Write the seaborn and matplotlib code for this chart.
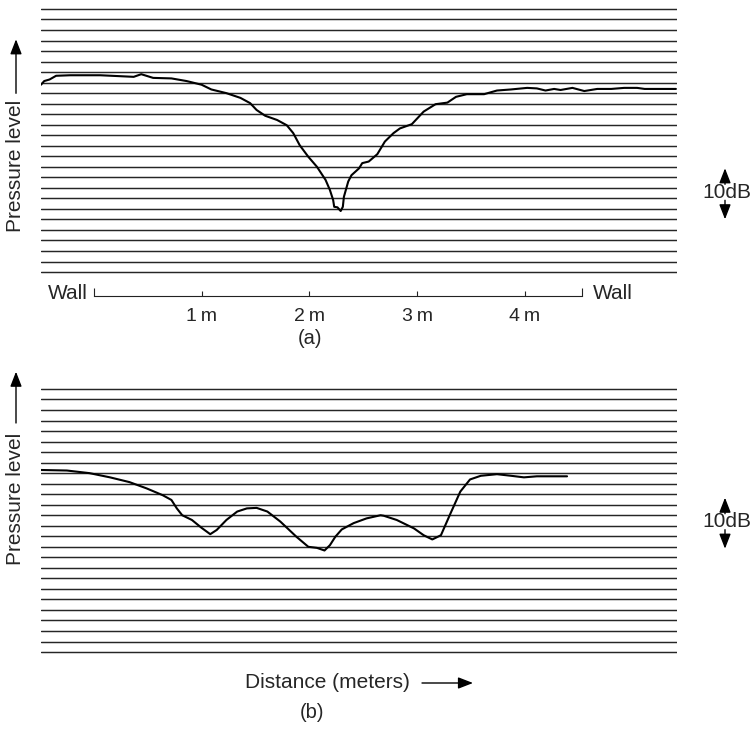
import matplotlib
matplotlib.use("Agg")
import matplotlib.pyplot as plt
from matplotlib.patches import FancyArrowPatch
import seaborn as sns
import pandas as pd

# === Data (distance in metres from left wall, pressure level in dB) ===
dist_a = [-0.49, -0.46, -0.41, -0.35, -0.22, 0.06, 0.37, 0.44, 0.55, 0.72,
          0.86, 1.00, 1.09, 1.23, 1.36, 1.45, 1.51, 1.59, 1.70, 1.79,
          1.85, 1.91, 1.99, 2.07, 2.15, 2.19, 2.22, 2.23, 2.26, 2.29,
          2.31, 2.32, 2.36, 2.39, 2.46, 2.49, 2.55, 2.63, 2.70, 2.78,
          2.84, 2.95, 3.06, 3.17, 3.28, 3.36, 3.46, 3.62, 3.74, 3.87,
          4.02, 4.11, 4.19, 4.27, 4.33, 4.44, 4.55, 4.67, 4.80, 4.92,
          5.04, 5.11, 5.40]
level_a = [35.6, 36.3, 36.6, 37.3, 37.4, 37.4, 37.1, 37.6, 36.9, 36.8,
           36.3, 35.6, 34.7, 34.0, 33.1, 32.1, 30.8, 29.7, 28.9, 27.9,
           26.4, 24.1, 21.9, 20.0, 17.5, 15.6, 13.7, 12.4, 12.3, 11.6,
           12.4, 14.3, 17.2, 18.4, 19.7, 20.7, 21.0, 22.4, 24.8, 26.4,
           27.3, 28.1, 30.5, 31.9, 32.2, 33.3, 33.8, 33.8, 34.5, 34.7,
           35.0, 34.9, 34.5, 34.8, 34.6, 35.0, 34.4, 34.8, 34.8, 35.0,
           35.0, 34.8, 34.8]

dist_b = [-0.49, -0.25, -0.04, 0.15, 0.33, 0.49, 0.64, 0.72, 0.77, 0.82,
          0.91, 1.00, 1.08, 1.14, 1.23, 1.33, 1.42, 1.51, 1.61, 1.73,
          1.88, 1.99, 2.07, 2.14, 2.19, 2.24, 2.30, 2.41, 2.53, 2.66,
          2.69, 2.81, 2.97, 3.06, 3.14, 3.22, 3.31, 3.40, 3.49, 3.59,
          3.74, 3.87, 3.99, 4.11, 4.39]
level_b = [34.6, 34.5, 34.0, 33.2, 32.3, 31.1, 29.8, 28.9, 27.3, 26.0,
           25.1, 23.6, 22.4, 23.2, 25.1, 26.7, 27.3, 27.4, 26.7, 24.8,
           21.9, 20.0, 19.8, 19.3, 20.3, 21.9, 23.3, 24.5, 25.4, 26.0,
           25.9, 25.1, 23.5, 22.2, 21.4, 22.2, 26.4, 30.5, 32.8, 33.5,
           33.8, 33.5, 33.2, 33.4, 33.4]

grid_levels = list(range(0, 51, 2))      # 2 dB per ruled line
scale_ticks = [1, 2, 3, 4]
scale_labels = ["1\u2009m", "2\u2009m", "3\u2009m", "4\u2009m"]
wall_positions = [0.0, 4.53]

df_a = pd.DataFrame({"dist": dist_a, "level": level_a})
df_b = pd.DataFrame({"dist": dist_b, "level": level_b})

sns.set_style("white")
plt.rcParams["font.family"] = ["Liberation Sans", "DejaVu Sans"]

W, H = 752, 729
fig = plt.figure(figsize=(W / 100, H / 100), dpi=100)


def fpos(x, y):
    # image pixel -> figure fraction
    return x / W, 1 - y / H


ax_a = fig.add_axes([41 / W, 1 - 275.2 / H, 636 / W, 269.4 / H])
ax_b = fig.add_axes([41 / W, 1 - 655.2 / H, 636 / W, 269.4 / H])

LINE = "#262626"
for ax, df in [(ax_a, df_a), (ax_b, df_b)]:
    sns.lineplot(data=df, x="dist", y="level", ax=ax, color="black",
                 lw=1.5, sort=False, estimator=None, zorder=3)
    ax.set_xlim(-0.49, 5.41)
    ax.set_ylim(-0.6, 50.6)
    ax.set_yticks(grid_levels)
    ax.yaxis.grid(True, color=LINE, lw=1.05)
    ax.xaxis.grid(False)
    ax.tick_params(axis="y", left=False, labelleft=False)
    ax.set_xlabel("")
    ax.set_ylabel("")
    for s in ax.spines.values():
        s.set_visible(False)

ax_b.set_xticks([])

# wall-to-wall distance scale under panel (a)
sp = ax_a.spines["bottom"]
sp.set_visible(True)
sp.set_position(("outward", 14.8))
sp.set_bounds(wall_positions[0], wall_positions[1])
sp.set_color("#222222")
sp.set_linewidth(0.8)
ax_a.set_xticks(scale_ticks, scale_labels)
ax_a.set_xticks(wall_positions, minor=True)
ax_a.tick_params(axis="x", which="major", bottom=True, direction="in",
                 length=3.6, width=0.8, color="#222222", pad=8.5, labelsize=14)
ax_a.tick_params(axis="x", which="minor", bottom=True, direction="in",
                 length=5.8, width=0.8, color="#222222")
xt = ax_a.get_xaxis_transform()
ax_a.text(wall_positions[0] - 0.06, -0.088, "Wall", transform=xt,
          ha="right", va="baseline", fontsize=15)
ax_a.text(wall_positions[1] + 0.1, -0.088, "Wall", transform=xt,
          ha="left", va="baseline", fontsize=15)

# annotations
arrow = dict(arrowstyle="-|>,head_length=0.9,head_width=0.35",
             color="black", lw=1.0, mutation_scale=10, shrinkA=0, shrinkB=0)

for text_y, tip_y, tail_y in [(165.8, 39.3, 93.3), (498.5, 371.7, 423)]:
    fig.text(*fpos(16, text_y), "Pressure level", rotation=90,
             ha="center", va="center", fontsize=15)
    fig.add_artist(FancyArrowPatch(fpos(16, tail_y), fpos(16, tip_y),
                                   transform=fig.transFigure, **arrow))

for cy in [192.3, 521.7]:
    fig.text(*fpos(726.5, cy), "10dB", ha="center", va="center",
             fontsize=15)
    fig.add_artist(FancyArrowPatch(fpos(725, cy - 8), fpos(725, cy - 24),
                                   transform=fig.transFigure, **arrow))
    fig.add_artist(FancyArrowPatch(fpos(725, cy + 8), fpos(725, cy + 27),
                                   transform=fig.transFigure, **arrow))

fig.text(*fpos(310, 339), "(a)", ha="center", va="center", fontsize=14.5)
fig.text(*fpos(245, 683), "Distance (meters)", ha="left", va="center",
         fontsize=15)
fig.add_artist(FancyArrowPatch(fpos(422, 683), fpos(473, 683),
                               transform=fig.transFigure, **arrow))
fig.text(*fpos(312, 712), "(b)", ha="center", va="center", fontsize=14.5)

fig.savefig("out.png", dpi=100)
